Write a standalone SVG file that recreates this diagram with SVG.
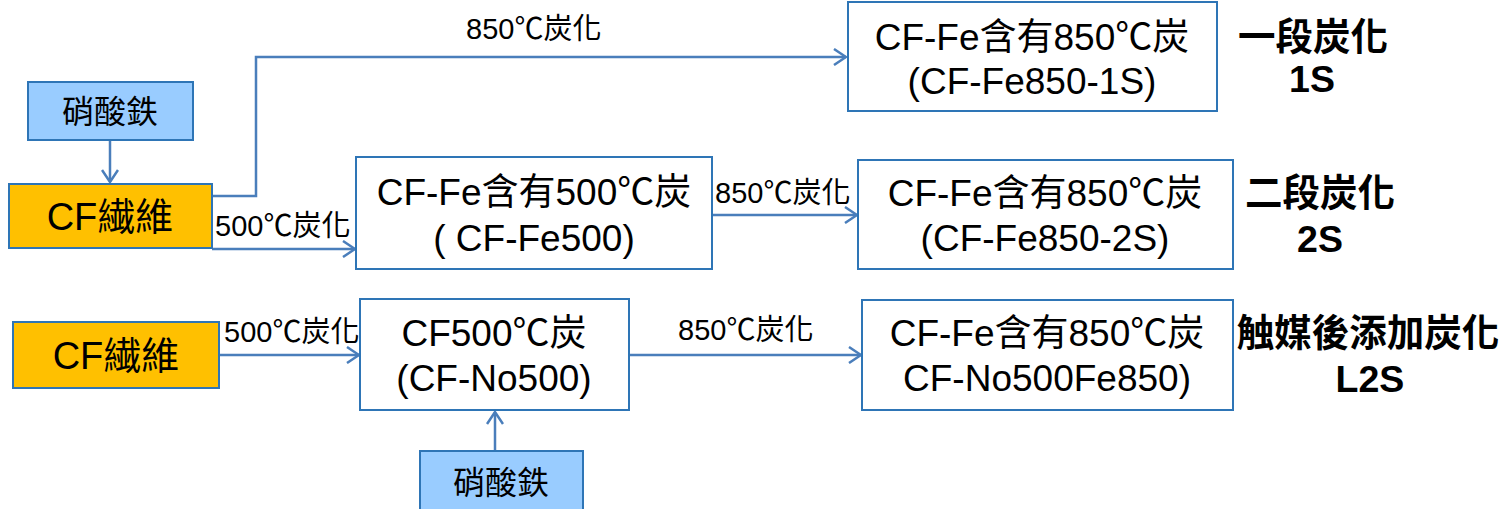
<svg xmlns="http://www.w3.org/2000/svg" width="1507" height="509" viewBox="0 0 1507 509">
<style>
text{font-family:"Liberation Sans","Noto Sans CJK TC",sans-serif;fill:#000}
.box{fill:#fff;stroke:#2E75B6;stroke-width:2}
.fe{fill:#99CCFF;stroke:#2E75B6;stroke-width:2}
.cf{fill:#FFC000;stroke:#2E75B6;stroke-width:2}
.bt{font-size:37px;text-anchor:middle}
.cft{font-size:38px;text-anchor:middle}
.fet{font-size:32px;text-anchor:middle}
.lbl{font-size:29px}
.stage{font-size:37.5px;font-weight:bold;text-anchor:middle}
.conn{fill:none;stroke:#4A7EBB;stroke-width:2.5;marker-end:url(#ah)}
</style>
<defs>
<marker id="ah" viewBox="0 0 14 18" refX="13" refY="9" markerWidth="14" markerHeight="18" markerUnits="userSpaceOnUse" orient="auto">
<path d="M1,1 L13,9 L1,17" fill="none" stroke="#4A7EBB" stroke-width="2.5"/>
</marker>
</defs>
<g id="connectors">
<path class="conn" d="M110,141 L110,182"/>
<path class="conn" d="M212,196 L256,196 L256,57 L846,57"/>
<path class="conn" d="M212,249 L355,249"/>
<path class="conn" d="M712,215 L857,215"/>
<path class="conn" d="M219,355 L359,355"/>
<path class="conn" d="M629,355 L861,355"/>
<path class="conn" d="M495,451 L495,412"/>
<text class="lbl" x="466" y="39">850℃炭化</text>
<text class="lbl" x="215" y="236">500℃炭化</text>
<text class="lbl" x="715" y="203">850℃炭化</text>
<text class="lbl" x="224" y="342">500℃炭化</text>
<text class="lbl" x="678" y="340">850℃炭化</text>
</g>
<g id="fe1">
<rect class="fe" x="28" y="82" width="165" height="58"/>
<text class="fet" x="110" y="123">硝酸鉄</text>
</g>
<g id="cf1">
<rect class="cf" x="9" y="184" width="203" height="64"/>
<text class="cft" x="110" y="230">CF繊維</text>
</g>
<g id="fe500">
<rect class="box" x="356" y="157" width="356" height="112"/>
<text class="bt" x="534" y="205">CF-Fe含有500℃炭</text>
<text class="bt" x="534" y="251">( CF-Fe500)</text>
</g>
<g id="s1">
<rect class="box" x="848" y="2" width="369" height="109"/>
<text class="bt" x="1032" y="50">CF-Fe含有850℃炭</text>
<text class="bt" x="1032" y="94">(CF-Fe850-1S)</text>
</g>
<g id="s1label">
<text class="stage" x="1313" y="50">一段炭化</text>
<text class="stage" x="1312" y="92">1S</text>
</g>
<g id="s2">
<rect class="box" x="858" y="160" width="375" height="109"/>
<text class="bt" x="1045" y="206">CF-Fe含有850℃炭</text>
<text class="bt" x="1045" y="251">(CF-Fe850-2S)</text>
</g>
<g id="s2label">
<text class="stage" x="1320" y="206">二段炭化</text>
<text class="stage" x="1320" y="252">2S</text>
</g>
<g id="cf2">
<rect class="cf" x="13" y="322" width="206" height="66"/>
<text class="cft" x="116" y="369">CF繊維</text>
</g>
<g id="no500">
<rect class="box" x="360" y="299" width="269" height="111"/>
<text class="bt" x="494" y="346">CF500℃炭</text>
<text class="bt" x="494" y="391">(CF-No500)</text>
</g>
<g id="l2s">
<rect class="box" x="862" y="300" width="371" height="110"/>
<text class="bt" x="1047" y="346">CF-Fe含有850℃炭</text>
<text class="bt" x="1047" y="391">CF-No500Fe850)</text>
</g>
<g id="l2slabel">
<text class="stage" x="1368" y="346">触媒後添加炭化</text>
<text class="stage" x="1370" y="392">L2S</text>
</g>
<g id="fe2">
<rect class="fe" x="420" y="451" width="163" height="62"/>
<text class="fet" x="501" y="494">硝酸鉄</text>
</g>
</svg>
